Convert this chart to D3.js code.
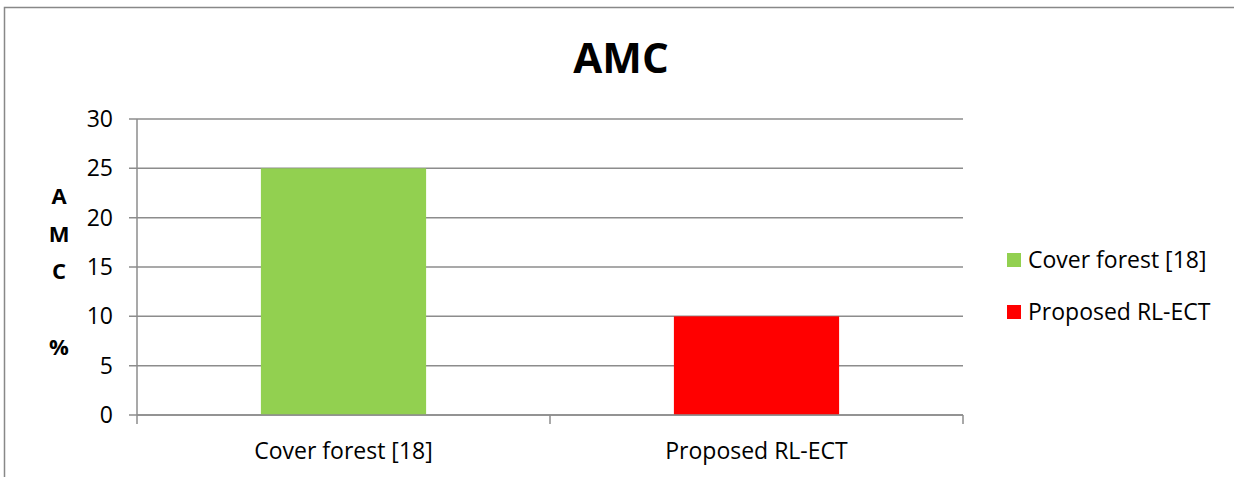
<!DOCTYPE html>
<html>
<head>
<meta charset="utf-8">
<script src="https://cdn.jsdelivr.net/npm/d3@7"></script>
<style>
  body { margin: 0; background: #fff; }
  svg { display: block; font-family: "Open Sans", Lato, sans-serif; }
</style>
</head>
<body>
<div id="chart"></div>
<script>
var categories = ["Cover forest [18]", "Proposed RL-ECT"];
var values = [25, 10];
var colors = ["#92d050", "#ff0000"];
var yTicks = [0, 5, 10, 15, 20, 25, 30];
var yLabelLetters = ["A", "M", "C", "", "%"];

var W = 1234, H = 477;
var margin = {top: 119, left: 137, right: 271, bottom: 62},
    width = W - margin.left - margin.right,
    height = H - margin.top - margin.bottom;

var svg = d3.select("#chart")
            .append("svg")
            .attr("width", W)
            .attr("height", H);

// outer frame (only top and left edges visible in the crop)
svg.append("path")
   .attr("d", "M4.5," + H + "V7.5H" + W)
   .attr("fill", "none")
   .attr("stroke", "#888")
   .attr("stroke-width", 1.5);

svg.append("text")
   .attr("x", 621)
   .attr("y", 73)
   .attr("text-anchor", "middle")
   .attr("font-size", 42)
   .attr("font-weight", "bold")
   .text("AMC");

var g = svg.append("g")
           .attr("transform", "translate(" + margin.left + "," + margin.top + ")");

var x = d3.scaleBand()
          .domain(categories)
          .range([0, width])
          .paddingInner(0.6)
          .paddingOuter(0.3);

var xOuter = d3.scaleBand()
               .domain(categories)
               .range([0, width]);

var y = d3.scaleLinear()
          .domain([0, 30])
          .range([height, 0]);

// gridlines
g.selectAll("line.grid")
 .data(yTicks)
 .enter()
 .append("line")
     .attr("class", "grid")
     .attr("x1", -8)
     .attr("x2", width)
     .attr("y1", function(d) { return y(d); })
     .attr("y2", function(d) { return y(d); })
     .attr("stroke", "#8c8c8c")
     .attr("stroke-width", 1.5);

// y axis line
g.append("line")
 .attr("x1", 0).attr("x2", 0)
 .attr("y1", 0).attr("y2", height)
 .attr("stroke", "#8c8c8c")
 .attr("stroke-width", 1.5);

g.selectAll("text.ytick")
 .data(yTicks)
 .enter()
 .append("text")
     .attr("class", "ytick")
     .attr("x", -24)
     .attr("y", function(d) { return y(d) + 8; })
     .attr("text-anchor", "end")
     .attr("font-size", 23)
     .text(function(d) { return d; });

// bars
g.selectAll("rect")
 .data(values)
 .enter()
 .append("rect")
     .attr("x", function(d, i) { return x(categories[i]); })
     .attr("y", function(d) { return y(d); })
     .attr("width", x.bandwidth())
     .attr("height", function(d) { return height - y(d); })
     .attr("fill", function(d, i) { return colors[i]; });

// x axis line and ticks
g.append("line")
 .attr("x1", 0).attr("x2", width)
 .attr("y1", height).attr("y2", height)
 .attr("stroke", "#8c8c8c")
 .attr("stroke-width", 1.5);

var xBounds = categories.map(function(c) { return xOuter(c); }).concat([width]);
g.selectAll("line.xtick")
 .data(xBounds)
 .enter()
 .append("line")
     .attr("class", "xtick")
     .attr("x1", function(d) { return d; })
     .attr("x2", function(d) { return d; })
     .attr("y1", height)
     .attr("y2", height + 9)
     .attr("stroke", "#8c8c8c")
     .attr("stroke-width", 1.5);

g.selectAll("text.xlabel")
 .data(categories)
 .enter()
 .append("text")
     .attr("class", "xlabel")
     .attr("x", function(d) { return xOuter(d) + xOuter.bandwidth() / 2; })
     .attr("y", height + 44)
     .attr("text-anchor", "middle")
     .attr("font-size", 23)
     .text(function(d) { return d; });

// stacked y axis title
svg.selectAll("text.ylab")
   .data(yLabelLetters)
   .enter()
   .append("text")
       .attr("class", "ylab")
       .attr("x", 59)
       .attr("y", function(d, i) { return 204 + i * 37.7; })
       .attr("text-anchor", "middle")
       .attr("font-size", 22)
       .attr("font-weight", "bold")
       .text(function(d) { return d; });

// legend
var legend = svg.selectAll("g.legend")
                .data(categories)
                .enter()
                .append("g")
                    .attr("class", "legend")
                    .attr("transform", function(d, i) {
                        return "translate(1007," + (253 + i * 52) + ")";
                    });

legend.append("rect")
      .attr("width", 14)
      .attr("height", 14)
      .attr("fill", function(d, i) { return colors[i]; });

legend.append("text")
      .attr("x", 21)
      .attr("y", 15)
      .attr("font-size", 23)
      .text(function(d) { return d; });
</script>
</body>
</html>
